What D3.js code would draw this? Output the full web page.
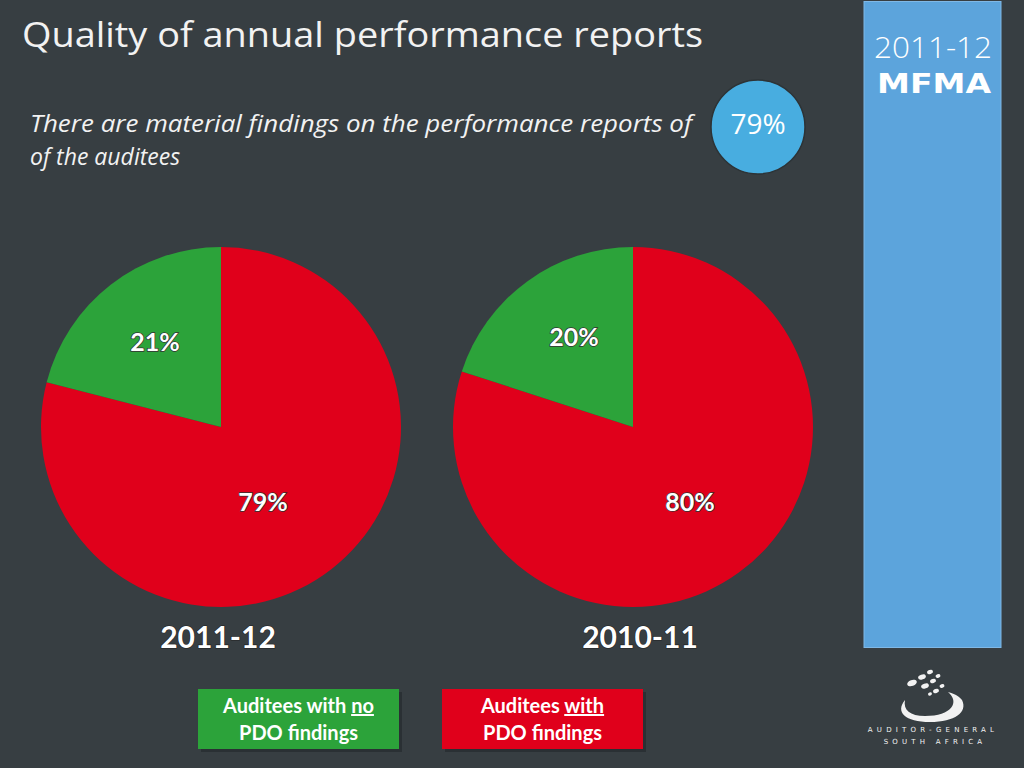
<!DOCTYPE html>
<html><head><meta charset="utf-8">
<script src="https://cdn.jsdelivr.net/npm/d3@7"></script>
<style>html,body{margin:0;padding:0;background:#373e42;}svg{display:block;}</style>
</head><body>
<script>
const years = ["2011-12", "2010-11"];
const categories = ["Auditees with PDO findings", "Auditees with no PDO findings"];
const withFindings = [79, 80];
const noFindings = [21, 20];
const headline = "79%";

const W = 1024, H = 768;
const svg = d3.select("body").append("svg").attr("width", W).attr("height", H);
svg.append("rect").attr("width", W).attr("height", H).attr("fill", "#373e42");

const red = "#e0001b", green = "#2ca33a";
const font = "Lato, 'Open Sans', sans-serif";
const font2 = "'Open Sans', sans-serif";

// Title
svg.append("text").attr("x", 22).attr("y", 47).attr("fill", "#f2f2f2")
  .attr("font-family", font2).attr("font-size", 35).attr("textLength", 681).attr("lengthAdjust", "spacingAndGlyphs")
  .text("Quality of annual performance reports");
const sub = svg.append("text").attr("fill", "#f2f2f2").attr("font-family", font2)
  .attr("font-style", "italic").attr("font-size", 23);
sub.append("tspan").attr("x", 30).attr("y", 132).attr("textLength", 662).attr("lengthAdjust", "spacingAndGlyphs")
  .text("There are material findings on the performance reports of");
sub.append("tspan").attr("x", 30).attr("y", 165).text("of the auditees");

// Headline circle
svg.append("circle").attr("cx", 758).attr("cy", 127).attr("r", 47).attr("fill", "#48ade0")
  .attr("stroke", "#2d3336").attr("stroke-width", 1.5);
svg.append("text").attr("x", 758).attr("y", 134).attr("text-anchor", "middle").attr("fill", "#fff")
  .attr("font-family", font2).attr("font-size", 28).text(headline);

// Right panel
svg.append("rect").attr("x", 864).attr("y", 1.5).attr("width", 137).attr("height", 646)
  .attr("fill", "#5ca4dc").attr("stroke", "#7fb8e6").attr("stroke-width", 1);
svg.append("text").attr("x", 933).attr("y", 58).attr("text-anchor", "middle").attr("fill", "#fff")
  .attr("font-family", font2).attr("font-weight", 300).attr("font-size", 30)
  .attr("textLength", 118).attr("lengthAdjust", "spacingAndGlyphs").text("2011-12");
svg.append("text").attr("x", 934).attr("y", 93).attr("text-anchor", "middle").attr("fill", "#fff")
  .attr("font-family", "'DejaVu Sans', sans-serif").attr("font-weight", "bold").attr("font-size", 27)
  .attr("textLength", 114).attr("lengthAdjust", "spacingAndGlyphs").text("MFMA");

// Pies
const pie = d3.pie().sort(null).value(d => d.v);
const arc = d3.arc().innerRadius(0).outerRadius(180);
const centersX = [221, 633];
const labelPos = [
  {g: [155, 342], r: [263, 502]},
  {g: [574, 337], r: [690, 502]}
];
years.forEach((y, i) => {
  const data = [{k: "with", v: withFindings[i], c: red}, {k: "no", v: noFindings[i], c: green}];
  const g = svg.append("g").attr("transform", `translate(${centersX[i]},427)`);
  g.selectAll("path").data(pie(data)).join("path").attr("d", arc).attr("fill", d => d.data.c);
  const lp = [labelPos[i].r, labelPos[i].g];
  data.forEach((d, j) => {
    svg.append("text").attr("x", lp[j][0]).attr("y", lp[j][1] + 9).attr("text-anchor", "middle")
      .attr("fill", "#fff").attr("font-family", font).attr("font-weight", "bold").attr("font-size", 25)
      .attr("stroke", "#333").attr("stroke-width", 1.5).attr("paint-order", "stroke")
      .text(d.v + "%");
  });
  svg.append("text").attr("x", i === 0 ? 218 : 640).attr("y", 648).attr("text-anchor", "middle")
    .attr("fill", "#fff").attr("font-family", font).attr("font-weight", "bold").attr("font-size", 30)
    .attr("stroke", "#222").attr("stroke-width", 1.2).attr("paint-order", "stroke")
    .text(y);
});

// Legend boxes
const legend = [
  {x: 198, c: green, l1: ["Auditees with ", "no"], l2: "PDO findings"},
  {x: 442, c: red, l1: ["Auditees ", "with"], l2: "PDO findings"}
];
legend.forEach(L => {
  svg.append("rect").attr("x", L.x + 3).attr("y", 692).attr("width", 201).attr("height", 60).attr("fill", "#22282b").attr("opacity", 0.6);
  svg.append("rect").attr("x", L.x).attr("y", 689).attr("width", 201).attr("height", 60).attr("fill", L.c);
  const t = svg.append("text").attr("x", L.x + 100.5).attr("y", 713).attr("text-anchor", "middle")
    .attr("fill", "#fff").attr("font-family", font).attr("font-weight", "bold").attr("font-size", 20);
  t.append("tspan").text(L.l1[0]);
  t.append("tspan").attr("text-decoration", "underline").text(L.l1[1]);
  svg.append("text").attr("x", L.x + 100.5).attr("y", 740).attr("text-anchor", "middle")
    .attr("fill", "#fff").attr("font-family", font).attr("font-weight", "bold").attr("font-size", 20)
    .text(L.l2);
});

// Logo
const lg = svg.append("g").attr("fill", "#f2f2f2");
lg.append("path").attr("d", "M905,700 C895,712 905,722 930,722 C955,722 968,712 962,700 C958,695 952,693 948,692 C960,702 952,716 925,716 C910,716 903,710 905,700 Z");
[[912,683,5,3],[922,677,4,2.5],[930,672,3,2],[925,686,4,2.5],[933,681,3,2],[938,676,2.5,1.8],[936,691,3,2],[942,686,2.5,1.8],[930,694,2,1.5]].forEach(e=>{
  lg.append("ellipse").attr("cx", e[0]).attr("cy", e[1]).attr("rx", e[2]).attr("ry", e[3]).attr("transform", `rotate(-20 ${e[0]} ${e[1]})`);
});
svg.append("text").attr("x", 933).attr("y", 732).attr("text-anchor", "middle").attr("fill", "#f2f2f2")
  .attr("font-family", "'DejaVu Sans', sans-serif").attr("font-size", 7).attr("letter-spacing", 4.2).text("AUDITOR-GENERAL");
svg.append("text").attr("x", 935).attr("y", 744).attr("text-anchor", "middle").attr("fill", "#f2f2f2")
  .attr("font-family", "'DejaVu Sans', sans-serif").attr("font-size", 7).attr("letter-spacing", 4.2).text("SOUTH  AFRICA");
</script>
</body></html>
